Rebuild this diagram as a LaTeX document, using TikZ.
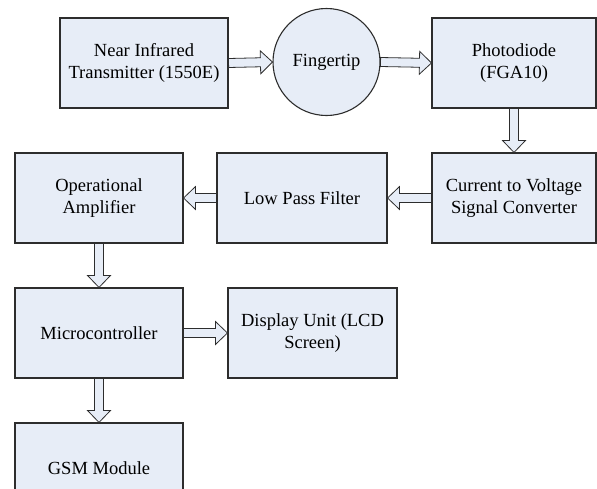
\documentclass[tikz,border=0pt]{standalone}
\usepackage{fontspec}
\setmainfont{LiberationSerif}[Extension=.ttf, UprightFont=*-Regular, BoldFont=*-Bold]
\usetikzlibrary{calc}

\definecolor{boxfill}{RGB}{231,237,247}
\definecolor{boxline}{RGB}{45,45,45}

\tikzset{
	block/.style={draw=boxline, line width=1.1pt, fill=boxfill, minimum width=168pt, minimum height=90pt,
		inner sep=2pt, align=center, font=\rmfamily\fontsize{18.5}{22}\selectfont},
	bubble/.style={block, circle, minimum size=107pt},
	flowarrow/.style={draw=boxline, line width=0.8pt, fill=boxfill, line join=miter}
}

% hollow block arrow from #1 to #2
\newcommand{\flowarrow}[2]{%
	\coordinate (h) at ($(#2)!12pt!(#1)$);
	\draw[flowarrow] ($(#1)!4.5pt!90:(#2)$) -- ($(h)!4.5pt!90:(#2)$) -- ($(h)!11.5pt!90:(#2)$)
		-- (#2) -- ($(h)!11.5pt!-90:(#2)$) -- ($(h)!4.5pt!-90:(#2)$) -- ($(#1)!4.5pt!-90:(#2)$) -- cycle;}

\begin{document}
\begin{tikzpicture}[x=1pt,y=1pt]
	\useasboundingbox (0,0) rectangle (597,-488);
	\node[block] (nir) at (144,-63) {Near Infrared\\Transmitter (1550E)};
	\node[bubble] (finger) at (326.5,-62) {Fingertip};
	\node[block, minimum width=164pt] (photo) at (514,-63) {Photodiode\\(FGA10)};
	\node[block, minimum width=164pt] (conv) at (514,-198) {Current to Voltage\\Signal Converter};
	\node[block, minimum width=170pt] (lpf) at (302,-198) {Low Pass Filter};
	\node[block] (opamp) at (99,-198) {Operational\\Amplifier};
	\node[block] (micro) at (99,-333) {Microcontroller};
	\node[block, minimum width=169pt] (disp) at (312.5,-333) {Display Unit (LCD\\Screen)};
	\node[block] (gsm) at (99,-468) {GSM Module};

	\flowarrow{nir.east}{finger.west}
	\flowarrow{finger.east}{photo.west}
	\flowarrow{photo.south}{conv.north}
	\flowarrow{conv.west}{lpf.east}
	\flowarrow{lpf.west}{opamp.east}
	\flowarrow{opamp.south}{micro.north}
	\flowarrow{micro.east}{disp.west}
	\flowarrow{micro.south}{gsm.north}
\end{tikzpicture}
\end{document}
